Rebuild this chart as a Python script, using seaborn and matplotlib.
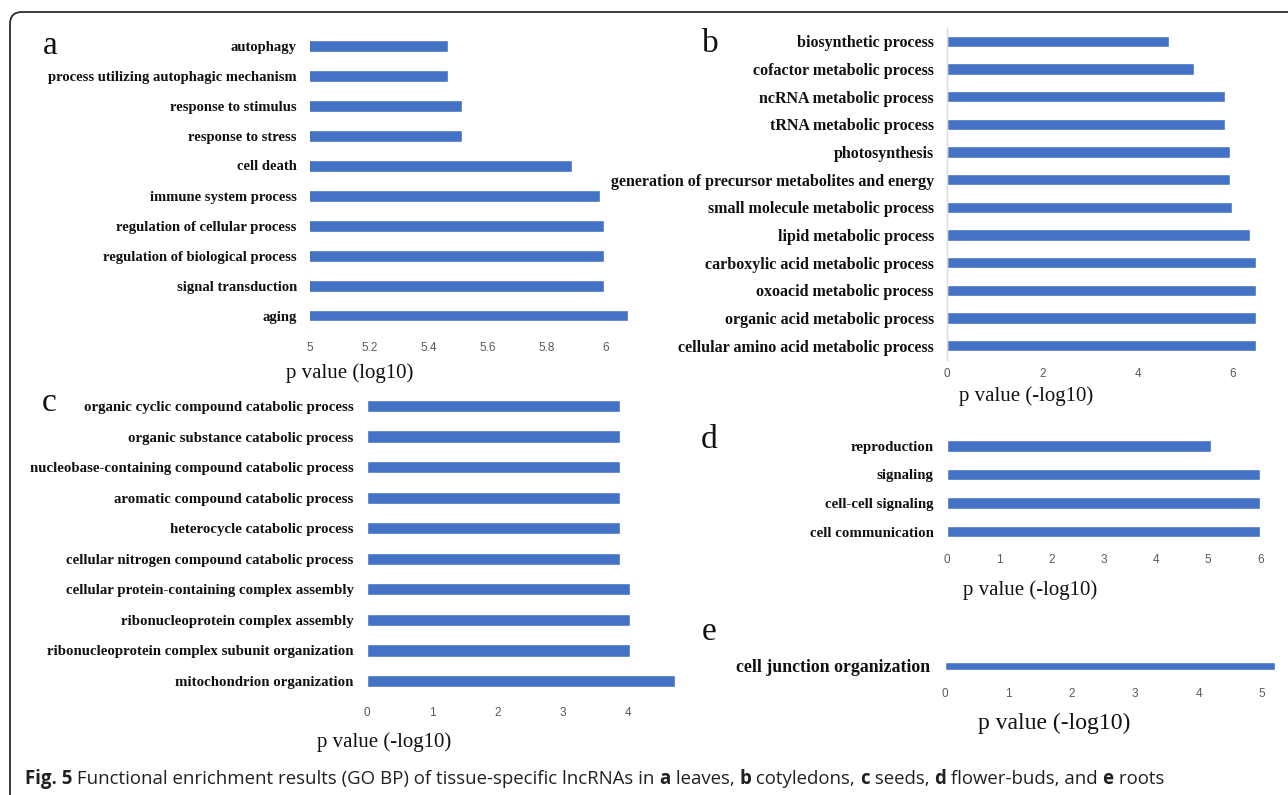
import matplotlib
matplotlib.use('Agg')
import matplotlib.pyplot as plt
import seaborn as sns
from matplotlib.patches import FancyBboxPatch

# ---- data ----
a_terms = ['autophagy', 'process utilizing autophagic mechanism', 'response to stimulus',
           'response to stress', 'cell death', 'immune system process',
           'regulation of cellular process', 'regulation of biological process',
           'signal transduction', 'aging']
a_vals = [5.466, 5.466, 5.513, 5.513, 5.885, 5.979, 5.993, 5.993, 5.993, 6.075]

b_terms = ['biosynthetic process', 'cofactor metabolic process', 'ncRNA metabolic process',
           'tRNA metabolic process', 'photosynthesis',
           'generation of precursor metabolites and energy',
           'small molecule metabolic process', 'lipid metabolic process',
           'carboxylic acid metabolic process', 'oxoacid metabolic process',
           'organic acid metabolic process', 'cellular amino acid metabolic process']
b_vals = [4.65, 5.19, 5.83, 5.83, 5.94, 5.94, 5.98, 6.36, 6.48, 6.48, 6.48, 6.48]

c_terms = ['organic cyclic compound catabolic process', 'organic substance catabolic process',
           'nucleobase-containing compound catabolic process',
           'aromatic compound catabolic process', 'heterocycle catabolic process',
           'cellular nitrogen compound catabolic process',
           'cellular protein-containing complex assembly',
           'ribonucleoprotein complex assembly',
           'ribonucleoprotein complex subunit organization', 'mitochondrion organization']
c_vals = [3.88, 3.88, 3.88, 3.88, 3.88, 3.88, 4.03, 4.03, 4.03, 4.72]

d_terms = ['reproduction', 'signaling', 'cell-cell signaling', 'cell communication']
d_vals = [5.06, 6.0, 6.0, 6.0]

e_terms = ['cell junction organization']
e_vals = [5.21]

a_ticks = [5, 5.2, 5.4, 5.6, 5.8, 6]
a_ticklabels = ['5', '5.2', '5.4', '5.6', '5.8', '6']
b_ticks = [0, 2, 4, 6]
c_ticks = [0, 1, 2, 3, 4]
d_ticks = [0, 1, 2, 3, 4, 5, 6]
e_ticks = [0, 1, 2, 3, 4, 5]

BLUE = '#4472C4'
W, H = 1288, 795

sns.set_theme(style='white')
plt.rcParams['font.family'] = ['Liberation Serif', 'DejaVu Serif']

fig = plt.figure(figsize=(W / 100, H / 100), dpi=100)


def px_axes(x0, y0, x1, y1):
    # pixel box (top-left origin) -> figure fraction
    return fig.add_axes([x0 / W, 1 - y1 / H, (x1 - x0) / W, (y1 - y0) / H])


def panel(ax, terms, vals, xlim, ticks, ticklabels, xlabel, lab_xy,
          ylab_size=10.5, xlab_size=15, bar_w=0.4, xpad=6, ypad=9.5, spine=False):
    sns.barplot(x=vals, y=terms, orient='h', color=BLUE, saturation=1,
                width=bar_w, ax=ax)
    ax.set_xlim(*xlim)
    ax.set_xticks(ticks)
    ax.set_xticklabels(ticklabels, family='Liberation Sans', fontsize=8.5, color='#595959')
    ax.tick_params(axis='x', length=0, pad=xpad)
    ax.tick_params(axis='y', length=0, pad=ypad)
    for t in ax.get_yticklabels():
        t.set_fontweight('bold')
        t.set_fontsize(ylab_size)
        t.set_color('#111111')
    ax.set_ylabel('')
    ax.set_xlabel(xlabel, fontsize=xlab_size, color='#111111')
    ax.xaxis.label.set_verticalalignment('center')
    ax.xaxis.set_label_coords(lab_xy[0] / W, 1 - lab_xy[1] / H, transform=fig.transFigure)
    for s in ax.spines.values():
        s.set_visible(False)
    if spine:
        ax.spines['left'].set_visible(True)
        ax.spines['left'].set_color('#D9D9D9')
        ax.spines['left'].set_linewidth(1)
    ax.grid(False)


# panel a: 296 px per unit, rows 45..315
ax_a = px_axes(310, 30.5, 310 + 1.1 * 296, 330.5)
panel(ax_a, a_terms, a_vals, (5, 6.1), a_ticks, a_ticklabels, 'p value (log10)', (350, 373), xpad=8)

# panel b: 47.67 px per unit, rows 41..345
ax_b = px_axes(947, 27.5, 947 + 6.6 * 47.67, 359.5)
panel(ax_b, b_terms, b_vals, (0, 6.6), b_ticks, [str(t) for t in b_ticks],
      'p value (-log10)', (1026, 396), ylab_size=11.5, spine=True)

# panel c: 65.3 px per unit, rows 406..681
ax_c = px_axes(367, 390.7, 367 + 4.8 * 65.3, 696.3)
panel(ax_c, c_terms, c_vals, (0, 4.8), c_ticks, [str(t) for t in c_ticks],
      'p value (-log10)', (384, 742), ylab_size=10.7, xpad=8)

# panel d: 52.2 px per unit, rows 446..531
ax_d = px_axes(947, 431.5, 947 + 6.2 * 52.2, 546)
panel(ax_d, d_terms, d_vals, (0, 6.2), d_ticks, [str(t) for t in d_ticks],
      'p value (-log10)', (1030, 590), ylab_size=10.7)

# panel e: 63.4 px per unit
ax_e = px_axes(945, 652, 945 + 5.3 * 63.4, 680)
panel(ax_e, e_terms, e_vals, (0, 5.3), e_ticks, [str(t) for t in e_ticks],
      'p value (-log10)', (1054, 723), ylab_size=12.8, xlab_size=17, bar_w=0.32, ypad=11)

# panel letters
for letter, (x, y) in zip('abcde', [(50, 46), (710, 44), (49, 403), (709, 440), (709, 632)]):
    fig.text(x / W, 1 - y / H, letter, fontsize=24, ha='center', va='center', color='#111111')

# rounded frame around the figure (clipped at right/bottom like the source)
frame = FancyBboxPatch((0.10, -0.3), W / 100 + 0.2, (H - 12) / 100 + 0.3,
                       boxstyle='round,pad=0,rounding_size=0.12',
                       transform=fig.dpi_scale_trans, fill=False,
                       edgecolor='#2b2b2b', linewidth=1.3)
fig.patches.append(frame)

# caption with bold parts
caption = [('Fig. 5', 'bold'), (' Functional enrichment results (GO BP) of tissue-specific lncRNAs in ', 'normal'),
           ('a', 'bold'), (' leaves, ', 'normal'), ('b', 'bold'), (' cotyledons, ', 'normal'),
           ('c', 'bold'), (' seeds, ', 'normal'), ('d', 'bold'), (' flower-buds, and ', 'normal'),
           ('e', 'bold'), (' roots', 'normal')]
renderer = fig.canvas.get_renderer()
x = 25
for txt, wt in caption:
    t = fig.text(x / W, 1 - 779 / H, txt, fontsize=13.4, fontweight=wt,
                 family='Open Sans', va='center', ha='left', color='#231f20')
    x += t.get_window_extent(renderer).width

fig.savefig('out.png', dpi=100)
